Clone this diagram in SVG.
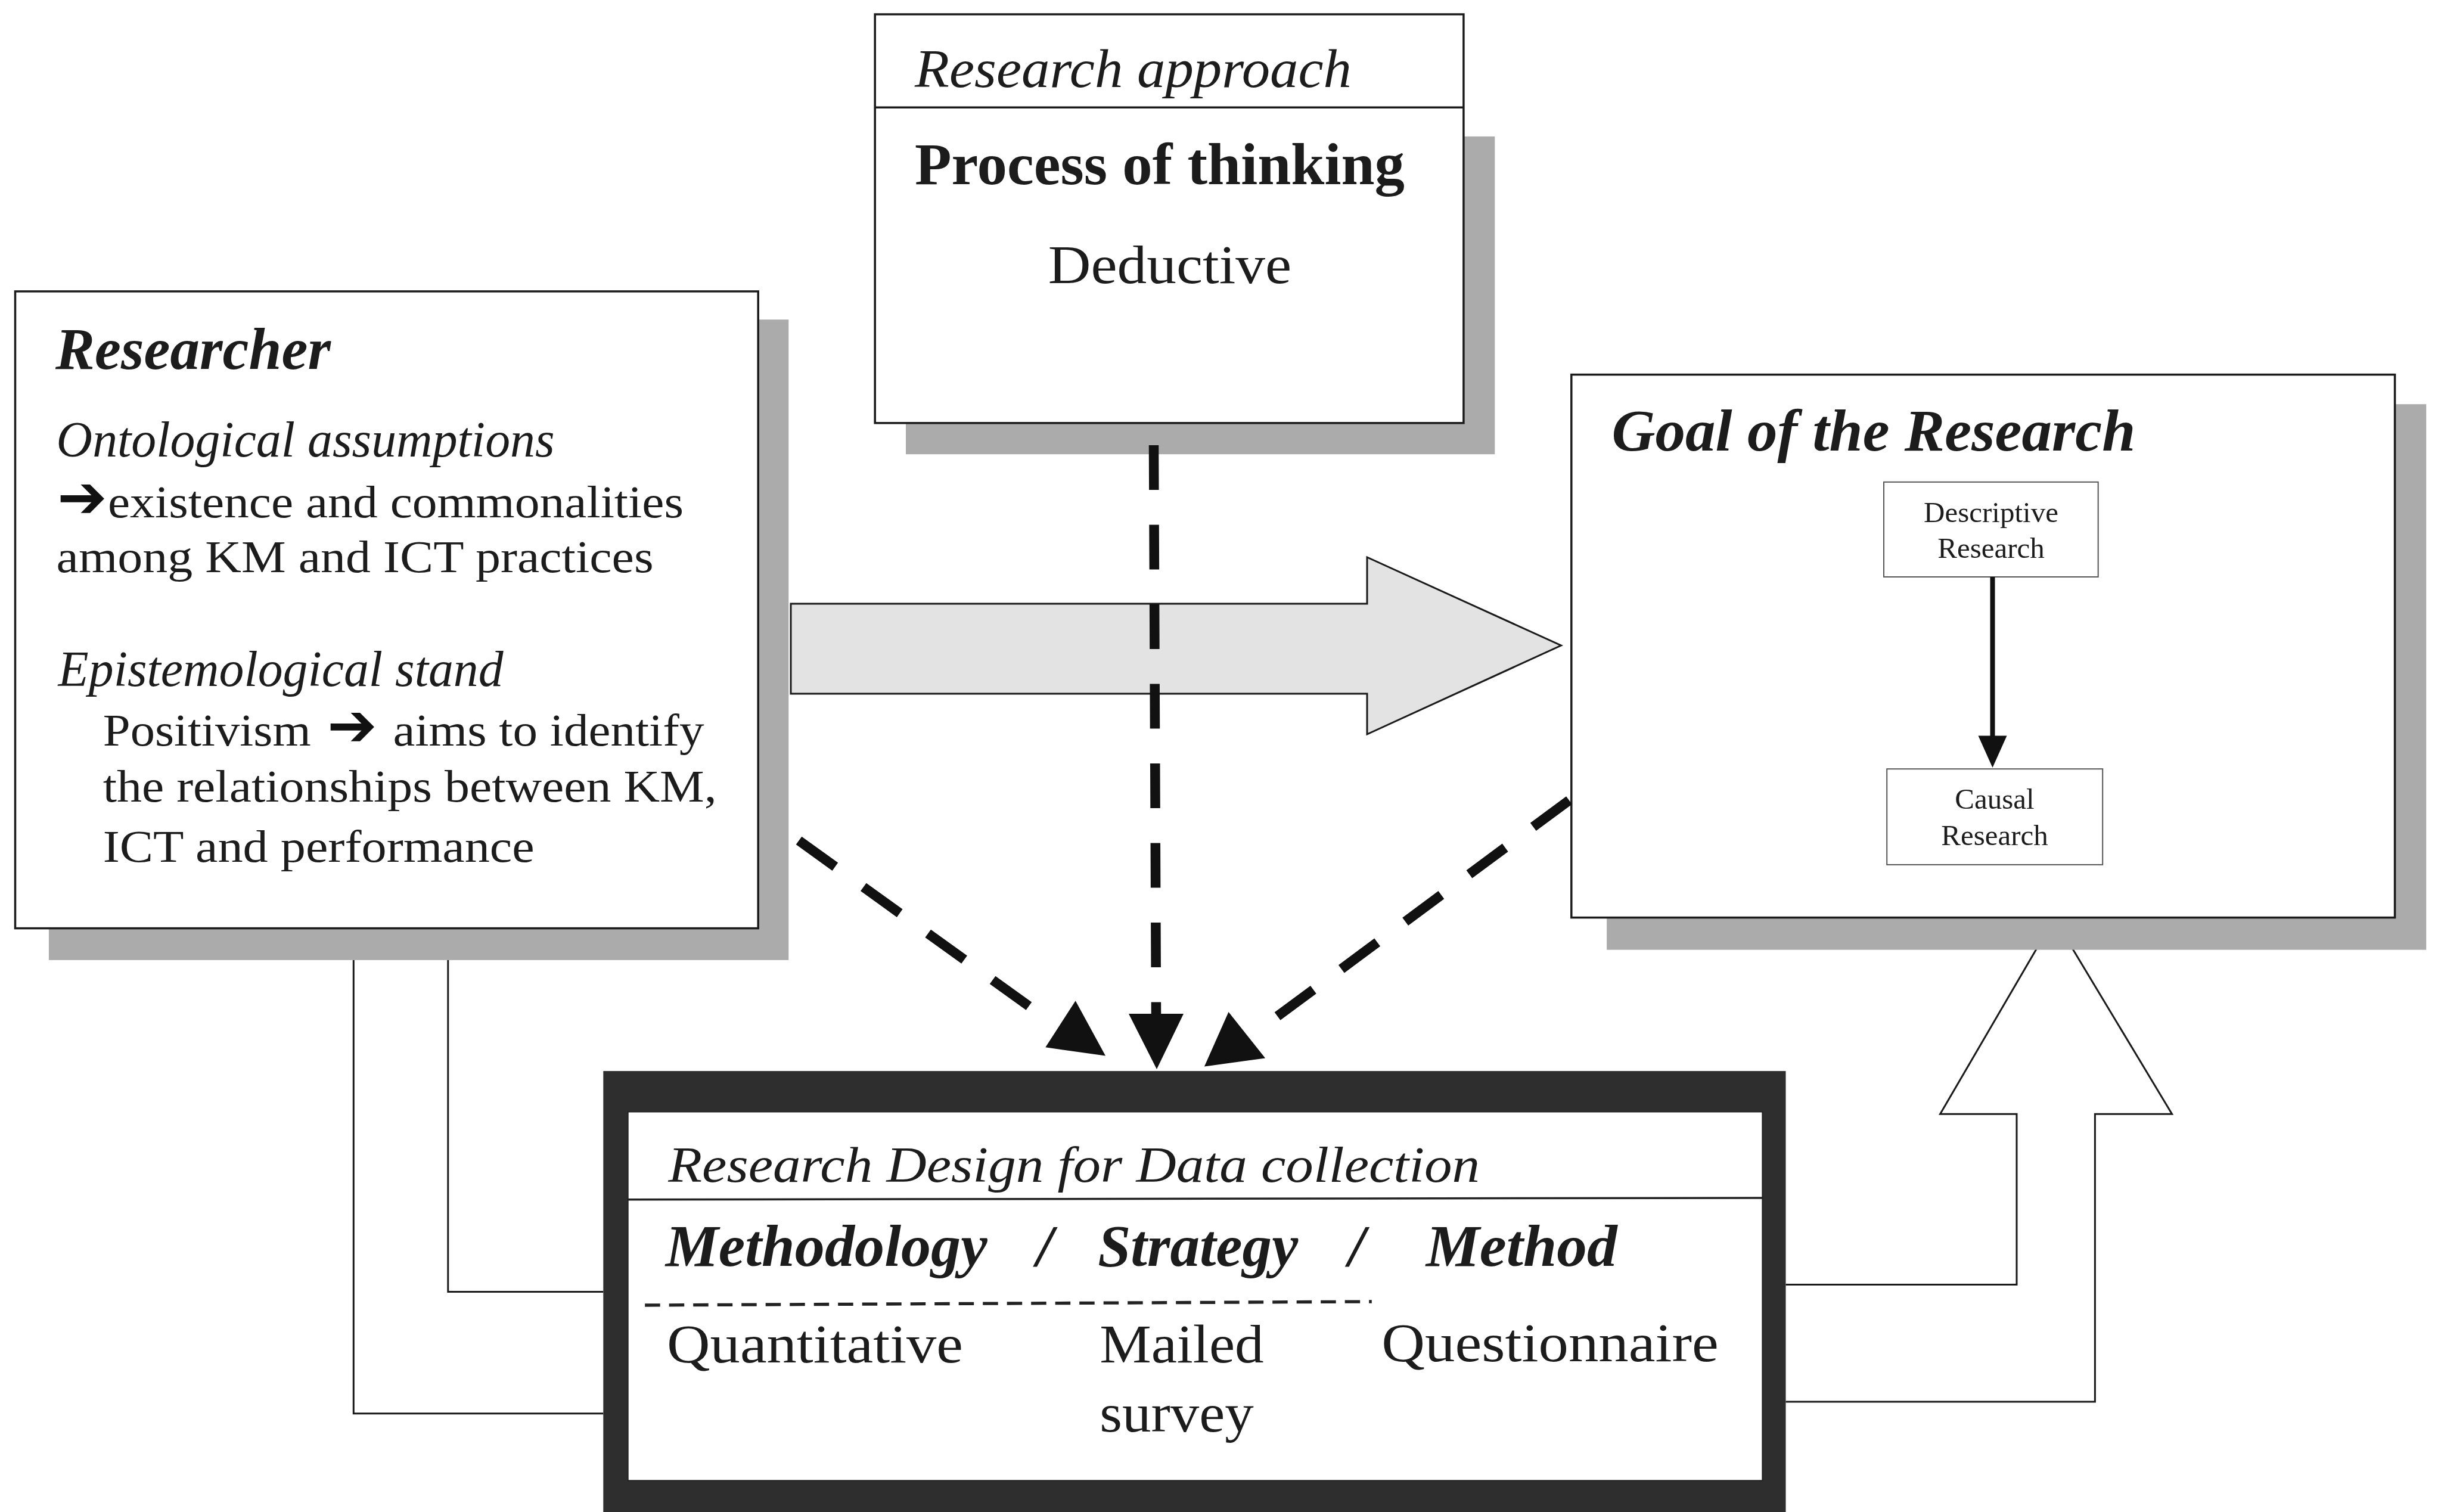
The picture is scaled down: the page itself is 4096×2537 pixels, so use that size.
<svg xmlns="http://www.w3.org/2000/svg" width="4096" height="2537" viewBox="0 0 4096 2537">
<style>
.bg{fill:#ffffff}
.shadow{fill:#ababab}
.box{fill:#ffffff;stroke:#1a1a1a;stroke-width:3.5}
.sub{fill:#ffffff;stroke:#555555;stroke-width:2}
.serif{font-family:"Liberation Serif","Times New Roman",serif;fill:#1c1c1c}
.bi{font-weight:bold;font-style:italic}
.b{font-weight:bold}
.i{font-style:italic}
.dash{fill:none;stroke:#111111;stroke-width:16.5;stroke-dasharray:75 58.5}
.band{fill:none;stroke:#1a1a1a;stroke-width:3}
.head{fill:#111111}
.arr{font-family:"DejaVu Sans",sans-serif;fill:#111111}
</style>
<rect class="bg" x="0" y="0" width="4096" height="2537"/>

<g id="connectors">
  <path d="M1327,1013 L2294,1013 L2294,935 L2619.5,1083 L2294,1232 L2294,1164 L1327,1164 Z" fill="#e3e3e3" stroke="#1a1a1a" stroke-width="3"/>
  <polyline class="band" points="593.3,1611 593.3,2371.7 1012.3,2371.7"/>
  <polyline class="band" points="751.8,1611 751.8,2167.4 1012.3,2167.4"/>
  <path d="M2996.5,2155.4 L3384,2155.4 L3384,1869.2 L3255.6,1869.2 L3447.1,1541 L3644.6,1869.2 L3515.4,1869.2 L3515.4,2352.1 L2996.5,2352.1" fill="#ffffff" stroke="#1a1a1a" stroke-width="3"/>
</g>

<g id="node-researcher">
  <rect class="shadow" x="81.9" y="536.2" width="1241.4" height="1074.7"/>
  <rect class="box" x="25.5" y="488.9" width="1246.7" height="1068.7"/>
  <text class="serif bi" x="93" y="618.8" font-size="99">Researcher</text>
  <text class="serif i" x="94.6" y="766" font-size="84" textLength="836" lengthAdjust="spacingAndGlyphs">Ontological assumptions</text>
  <text class="serif" y="868.2" font-size="76"><tspan class="arr" x="96" font-size="100">➔</tspan><tspan x="181" textLength="966" lengthAdjust="spacingAndGlyphs">existence and commonalities</tspan></text>
  <text class="serif" x="94.6" y="959.8" font-size="76" textLength="1002" lengthAdjust="spacingAndGlyphs">among KM and ICT practices</text>
  <text class="serif i" x="97.6" y="1151.3" font-size="84" textLength="747" lengthAdjust="spacingAndGlyphs">Epistemological stand</text>
  <text class="serif" y="1251.2" font-size="76"><tspan x="172.7" textLength="349" lengthAdjust="spacingAndGlyphs">Positivism</tspan><tspan class="arr" x="549" font-size="100">➔ </tspan><tspan x="659.5" textLength="522" lengthAdjust="spacingAndGlyphs">aims to identify</tspan></text>
  <text class="serif" x="172.7" y="1345" font-size="76" textLength="1030" lengthAdjust="spacingAndGlyphs">the relationships between KM,</text>
  <text class="serif" x="172.7" y="1446.4" font-size="76" textLength="724" lengthAdjust="spacingAndGlyphs">ICT and performance</text>
</g>

<g id="node-approach">
  <rect class="shadow" x="1520" y="229" width="988.3" height="533.2"/>
  <rect class="box" x="1468.2" y="24" width="987.7" height="685.8"/>
  <line x1="1468.2" y1="180.2" x2="2455.9" y2="180.2" stroke="#1a1a1a" stroke-width="3.5"/>
  <text class="serif i" x="1535" y="145.7" font-size="90" textLength="733" lengthAdjust="spacingAndGlyphs">Research approach</text>
  <text class="serif b" x="1535" y="309.4" font-size="100" textLength="822" lengthAdjust="spacingAndGlyphs">Process of thinking</text>
  <text class="serif" x="1758.7" y="475.4" font-size="92" textLength="408.5" lengthAdjust="spacingAndGlyphs">Deductive</text>
</g>

<g id="node-goal">
  <rect class="shadow" x="2696.1" y="678.2" width="1375.1" height="915.5"/>
  <rect class="box" x="2636.8" y="628.6" width="1381.8" height="911"/>
  <text class="serif bi" x="2704.4" y="756.3" font-size="100" textLength="879" lengthAdjust="spacingAndGlyphs">Goal of the Research</text>
</g>

<g id="node-descriptive">
  <rect class="sub" x="3161" y="808.8" width="359.7" height="159.2"/>
  <text class="serif" x="3341" y="875.7" font-size="49" text-anchor="middle" fill="#444">Descriptive</text>
  <text class="serif" x="3341" y="935.7" font-size="49" text-anchor="middle" fill="#444">Research</text>
</g>

<g id="node-causal">
  <rect class="sub" x="3166.2" y="1290.2" width="362" height="160.7"/>
  <text class="serif" x="3347" y="1357" font-size="49" text-anchor="middle" fill="#444">Causal</text>
  <text class="serif" x="3347" y="1418" font-size="49" text-anchor="middle" fill="#444">Research</text>
</g>

<g id="connectors-inner">
  <line x1="3343.5" y1="968" x2="3343.5" y2="1238" stroke="#111" stroke-width="8"/>
  <polygon class="head" points="3319.5,1234.6 3367.5,1234.6 3343.5,1288"/>
</g>

<g id="node-design">
  <rect x="1012.3" y="1797.1" width="1984.2" height="760" fill="#2e2e2e"/>
  <rect x="1053.7" y="1865.5" width="1903.7" height="618.8" fill="#ffffff" stroke="#222" stroke-width="2"/>
  <line x1="1053.7" y1="2012.7" x2="2957.4" y2="2010" stroke="#222" stroke-width="3.5"/>
  <text class="serif i" x="1121.2" y="1982.6" font-size="84" textLength="1362" lengthAdjust="spacingAndGlyphs">Research Design for Data collection</text>
  <text class="serif bi" x="1116.7" y="2123.8" font-size="100" textLength="540" lengthAdjust="spacingAndGlyphs">Methodology</text>
  <text class="serif bi" x="1739.3" y="2123.8" font-size="100">/</text>
  <text class="serif bi" x="1842.2" y="2123.8" font-size="100" textLength="336" lengthAdjust="spacingAndGlyphs">Strategy</text>
  <text class="serif bi" x="2262.8" y="2123.8" font-size="100">/</text>
  <text class="serif bi" x="2392.7" y="2123.8" font-size="100" textLength="321" lengthAdjust="spacingAndGlyphs">Method</text>
  <line x1="1082.2" y1="2190" x2="2301.8" y2="2184" stroke="#222" stroke-width="5.3" stroke-dasharray="25.5 15"/>
  <text class="serif" x="1119" y="2286" font-size="92" textLength="497" lengthAdjust="spacingAndGlyphs">Quantitative</text>
  <text class="serif" x="1845.2" y="2286" font-size="92" textLength="275.5" lengthAdjust="spacingAndGlyphs">Mailed</text>
  <text class="serif" x="1845.2" y="2402.4" font-size="92" textLength="258.5" lengthAdjust="spacingAndGlyphs">survey</text>
  <text class="serif" x="2318.3" y="2283.8" font-size="92" textLength="565.5" lengthAdjust="spacingAndGlyphs">Questionnaire</text>
</g>

<g id="connectors-dashed">
  <line class="dash" x1="1936" y1="747" x2="1940" y2="1701"/>
  <polygon class="head" points="1894,1701 1986,1701 1941,1794"/>
  <line class="dash" x1="1340.5" y1="1410.4" x2="1731.8" y2="1692"/>
  <polygon class="head" points="1804.7,1679.2 1754.3,1757.3 1855,1771.6"/>
  <line class="dash" x1="2633" y1="1342.8" x2="2132" y2="1713.8"/>
  <polygon class="head" points="2061.5,1698 2020.9,1789.6 2123.1,1775.4"/>
</g>
</svg>
